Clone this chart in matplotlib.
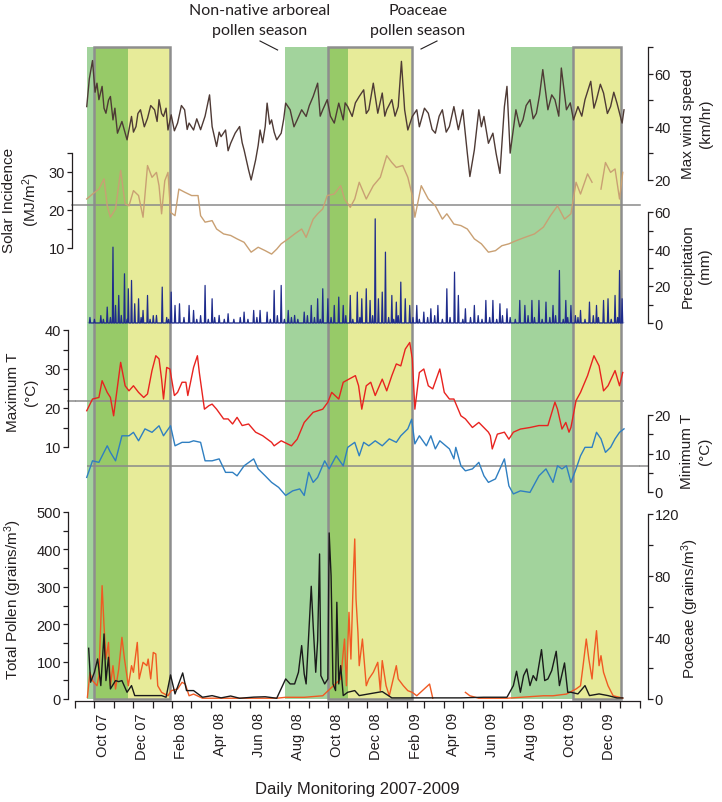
import numpy as np
import matplotlib
matplotlib.use('Agg')
import matplotlib.pyplot as plt
import matplotlib.dates as mdates
from matplotlib.lines import Line2D

plt.rcParams['font.family'] = ['Liberation Sans', 'DejaVu Sans']
plt.rcParams['mathtext.fontset'] = 'custom'
plt.rcParams['mathtext.rm'] = 'Liberation Sans'
plt.rcParams['mathtext.it'] = 'Liberation Sans:italic'
plt.rcParams['mathtext.bf'] = 'Liberation Sans:bold'

nan = np.nan
START = np.datetime64('2007-09-20')   # first day of monitoring

# pollen seasons
arb_start = ['2007-09-20', '2008-07-26', '2009-07-15']
arb_end = ['2007-11-23', '2008-11-01', '2009-10-20']
poa_start = ['2007-10-01', '2008-10-01', '2009-10-20']
poa_end = ['2008-01-28', '2009-02-10', '2010-01-03']

# max wind speed (km/hr), day offsets from START
wind_day = [0, 4, 9, 13, 16, 19, 24, 27, 30, 34, 37, 41, 44, 48, 55, 63, 70, 73, 77, 80, 84, 90, 95, 100, 106, 110, 113, 117, 120, 124, 127, 132, 137, 142,
            148, 153, 157, 160, 167, 172, 178, 185, 192, 196, 203, 207, 210, 217, 221, 225, 232, 239, 243, 246, 250, 253, 257, 264, 268, 271, 275, 279, 282, 286, 289,
            293, 297, 304, 308, 311, 318, 324, 329, 336, 343, 348, 354, 361, 365, 369, 376, 381, 387, 394, 401, 404, 408, 415, 420, 426, 433, 437, 441, 448,
            455, 462, 466, 469, 477, 482, 487, 492, 497, 502, 509, 516, 520, 523, 528, 534, 540, 545, 551, 556, 562, 567, 574, 581, 588, 595, 599,
            606, 613, 617, 621, 628, 635, 640, 646, 653, 657, 662, 671, 677, 682, 687, 693, 698, 703, 708, 713, 721, 727, 732, 738, 742, 750, 756, 761, 768,
            774, 779, 788, 793, 797, 803, 808, 814, 819, 824, 829, 837, 840]
wind = [47.6, 58.0, 64.9, 53.0, 56.4, 50.2, 55.2, 47.0, 45.1, 50.0, 51.4, 42.6, 47.0, 37.6, 42.0, 35.1, 43.9, 38.0, 40.1, 45.0, 46.4, 40.0, 43.2, 48.0, 46.4, 42.0, 50.2, 45.0, 43.9, 47.0, 38.8, 44.5, 38.5, 41.4,
        48.0, 46.4, 39.0, 41.4, 38.8, 43.0, 38.9, 44.0, 52.0, 40.1, 32.6, 38.0, 36.3, 38.8, 31.0, 33.8, 37.6, 40.1, 34.0, 31.3, 27.0, 23.8, 20.0, 27.5, 33.0, 38.8, 34.0, 40.1, 48.9, 41.0, 42.6,
        38.0, 35.1, 37.6, 43.0, 48.9, 46.4, 40.0, 42.6, 46.4, 43.9, 48.0, 51.4, 56.4, 44.0, 46.4, 50.2, 44.0, 41.4, 48.9, 42.6, 49.0, 47.6, 43.9, 49.0, 51.4, 53.9, 45.0, 46.4, 56.4,
        45.1, 52.7, 44.0, 46.4, 50.2, 44.0, 47.6, 64.6, 46.4, 38.8, 43.9, 46.4, 40.0, 42.6, 47.0, 45.1, 39.0, 37.6, 44.0, 46.4, 38.0, 40.1, 47.6, 38.9, 46.4, 30.1, 21.3,
        31.3, 46.4, 40.0, 43.9, 33.8, 37.6, 30.0, 22.5, 47.6, 55.2, 30.1, 46.4, 40.0, 42.6, 48.0, 50.2, 43.0, 45.1, 52.0, 61.5, 46.4, 52.0, 50.2, 44.0, 62.1, 46.4, 49.0, 42.6, 47.6,
        44.0, 50.2, 57.1, 47.0, 50.2, 56.0, 52.7, 45.0, 47.6, 53.0, 48.9, 41.4, 46.4]

# solar incidence (MJ/m2)
solar_day = [0, 9, 19, 27, 32, 37, 45, 53, 60, 66, 73, 81, 88, 95, 102, 109, 113, 117, 122, 127,
             131, 138, 144, 153, 164, 174, 178, 185, 196, 203, 214, 225, 235, 246, 257, 268, 279, 289, 297, 304,
             315, 325, 336, 343, 354, 361, 369, 376, 387, 397, 403, 412, 419, 426, 437, 448, 459, 469, 477, 484,
             494, 502, 509, 513, 523, 534, 545, 556, 563, 574, 585, 595, 606, 617, 628, 639, 649, 660, 671, 685,
             700, 714, 725, 736, 747, 757, 765, 772, 783, 790, 797, 804, 811, 819, 826, 833, 838]
solar = [22.9, 24.2, 25.5, 28.2, 21.1, 18.1, 20.3, 30.4, 21.6, 21.1, 25.1, 23.8, 18.1, 31.7, 28.6, 29.9, 26.4, 19.0, 27.7, 29.9,
         19.4, 18.5, 25.5, 24.7, 23.8, 23.8, 18.5, 16.8, 17.2, 15.0, 13.7, 13.3, 12.4, 11.5, 8.9, 10.2, 9.3, 8.4, 9.7, 11.1,
         12.4, 13.7, 15.0, 12.8, 17.6, 19.0, 20.3, 23.8, 24.2, 26.4, 22.9, 20.7, 22.9, 27.3, 22.9, 26.4, 28.6, 34.3, 32.5, 31.2,
         31.7, 28.6, 23.8, 18.1, 26.4, 22.9, 21.1, 17.6, 19.0, 16.3, 15.9, 15.0, 12.4, 11.1, 8.9, 9.3, 10.6, 11.1, 11.9, 12.8,
         13.7, 15.5, 18.5, 21.1, 17.6, 19.0, 27.3, 24.2, 29.5, 27.3, nan, 25.5, 32.5, 29.9, 30.8, 22.9, 29.9]

# precipitation (mm): rain days and light drizzle days
rain_day = [32, 41, 45, 50, 54, 59, 65, 70, 75, 81, 88, 95, 109, 118, 132, 138, 145, 160, 167, 185,
            196, 207, 221, 246, 261, 271, 282, 293, 304, 315, 325, 340, 351, 361, 369, 377, 387, 394, 401, 412,
            423, 430, 437, 443, 451, 456, 462, 467, 477, 484, 491, 498, 505, 516, 527, 538, 549, 563, 575, 581,
            592, 606, 624, 635, 646, 657, 677, 685, 696, 707, 718, 729, 739, 749, 757, 772, 786, 797, 808, 815,
            826, 833, 837]
rain_mm = [8.6, 41.0, 9.5, 14.9, 4.1, 26.6, 18.5, 23.0, 10.4, 13.1, 6.8, 14.9, 4.1, 19.4, 16.7, 9.5, 10.4, 9.5, 6.8, 20.3,
           13.1, 4.1, 5.0, 5.9, 6.8, 6.8, 5.9, 17.6, 20.3, 6.8, 4.1, 5.9, 9.5, 13.1, 18.5, 13.1, 9.5, 14.0, 9.5, 14.9,
           16.7, 13.1, 18.5, 12.2, 56.3, 13.1, 16.7, 38.3, 14.9, 11.3, 22.1, 13.1, 9.5, 9.5, 5.9, 7.7, 9.5, 18.5, 27.5, 14.9,
           7.7, 9.5, 12.2, 12.2, 10.4, 7.7, 12.2, 9.5, 12.2, 12.2, 11.3, 9.5, 28.4, 12.2, 9.5, 6.8, 11.3, 9.5, 12.2, 13.1,
           14.9, 28.4, 13.1]
drizzle_day = [5, 12, 22, 26, 37, 63, 85, 99, 104, 125, 128, 152, 172, 178, 190, 200, 215, 230, 240, 252,
               266, 287, 298, 309, 320, 330, 345, 356, 365, 382, 405, 416, 427, 447, 472, 480, 487, 510, 520, 533,
               544, 556, 568, 588, 600, 612, 618, 630, 641, 650, 662, 670, 690, 700, 712, 724, 733, 745, 752, 764,
               768, 779, 792, 800, 820, 830]
drizzle_mm = [3, 2, 4, 2, 3, 2, 3, 2, 4, 3, 2, 3, 2, 4, 2, 3, 2, 2, 3, 2,
              3, 2, 4, 2, 3, 2, 4, 3, 2, 3, 4, 2, 3, 4, 3, 2, 4, 3, 2, 3,
              4, 2, 3, 2, 3, 4, 2, 3, 2, 4, 3, 2, 4, 3, 2, 3, 4, 2, 3, 4,
              3, 2, 4, 3, 2, 3]

# maximum temperature (C)
maxt_day = [0, 9, 19, 24, 32, 37, 42, 53, 60, 66, 73, 81, 89, 95, 102, 108, 113, 117, 120, 125,
            130, 137, 142, 149, 155, 158, 167, 173, 176, 184, 191, 196, 203, 214, 221, 228, 235, 243, 253, 264,
            275, 289, 293, 304, 320, 329, 340, 354, 369, 377, 383, 394, 401, 420, 425, 430, 437, 444, 451, 462,
            469, 477, 484, 491, 498, 505, 509, 513, 520, 527, 534, 541, 552, 559, 567, 574, 585, 592, 603, 613,
            628, 631, 634, 642, 653, 660, 667, 678, 693, 707, 721, 732, 736, 743, 749, 754, 757, 765, 772, 783,
            793, 801, 808, 815, 826, 833, 838]
maxt = [19.3, 22.3, 22.7, 27.0, 24.0, 22.7, 18.0, 31.7, 25.7, 24.4, 25.7, 24.0, 22.7, 23.6, 29.6, 33.4, 32.6, 27.4, 22.3, 30.4,
        30.0, 23.2, 24.0, 26.6, 26.6, 23.2, 30.4, 33.4, 29.1, 19.7, 20.6, 21.0, 19.7, 17.2, 17.2, 15.9, 17.6, 15.5, 15.9, 13.8,
        12.9, 11.2, 10.3, 11.6, 10.3, 12.0, 16.3, 18.9, 19.7, 21.5, 24.0, 22.3, 26.6, 28.3, 25.7, 19.7, 25.7, 26.6, 23.2, 27.4,
        24.4, 28.3, 31.3, 30.8, 35.1, 36.8, 32.6, 19.7, 29.1, 30.0, 25.7, 24.9, 30.0, 24.0, 22.3, 22.3, 18.0, 17.2, 15.0, 16.3,
        13.8, 12.9, 9.5, 13.3, 13.8, 12.0, 13.8, 14.6, 15.0, 15.5, 15.5, 21.5, 19.7, 14.6, 16.3, 13.8, 15.0, 21.9, 24.0, 28.3,
        33.4, 30.8, 24.4, 25.7, 29.6, 25.7, 29.1]

# minimum temperature (C)
mint_day = [0, 9, 19, 32, 37, 45, 55, 66, 73, 81, 91, 102, 113, 120, 131, 138, 149, 160, 167, 178,
            185, 196, 207, 217, 228, 235, 246, 261, 268, 279, 289, 300, 311, 322, 333, 340, 347, 354, 361, 372,
            379, 390, 401, 408, 419, 426, 433, 441, 451, 462, 473, 484, 491, 502, 508, 513, 520, 531, 538, 545,
            552, 567, 574, 577, 585, 592, 603, 613, 621, 628, 639, 646, 653, 660, 667, 678, 693, 707, 718, 729,
            736, 743, 750, 757, 765, 772, 779, 790, 797, 804, 811, 819, 826, 833, 840]
mint = [3.8, 8.1, 7.7, 12.0, 10.3, 8.1, 14.6, 14.6, 15.5, 13.3, 16.4, 15.5, 17.2, 14.6, 17.2, 12.0, 12.9, 12.9, 13.3, 12.9,
        8.1, 8.1, 8.6, 5.1, 5.1, 4.2, 6.8, 8.6, 6.0, 4.2, 2.5, 1.2, -0.9, 0.3, 0.8, -0.9, 5.1, 2.5, 3.8, 8.1,
        6.0, 9.4, 6.8, 11.6, 12.9, 9.4, 12.9, 12.0, 13.3, 12.0, 13.8, 12.9, 14.6, 16.4, 18.9, 12.5, 14.6, 12.0, 14.6, 11.2,
        13.3, 11.2, 8.6, 11.6, 6.8, 5.5, 6.0, 7.7, 4.2, 2.5, 3.4, 6.0, 8.6, 1.6, -0.5, 0.3, -0.1, 4.2, 6.0, 2.5,
        6.8, 6.0, 6.8, 2.5, 6.0, 9.4, 11.6, 11.6, 15.5, 13.8, 10.3, 11.6, 13.8, 15.5, 16.4]

# total pollen (grains/m3)
total_day = [3, 6, 12, 17, 22, 27, 30, 34, 37, 45, 50, 55, 63, 70, 75, 88, 102, 117, 124, 131,
             138, 150, 156, 167, 181, 196, 210, 225, 239, 261, 279, 297, 311, 318, 325, 331, 336, 340, 343, 351,
             354, 358, 361, 364, 366, 372, 377, 379, 382, 385, 389, 391, 394, 397, 401, 408, 419, 426, 441, 462,
             477, 513, 549, 585, 621, 657, 667, 672, 678, 683, 688, 693, 698, 703, 711, 716, 721, 727, 734, 739,
             747, 752, 757, 768, 779, 786, 801, 815, 829, 838]
total = [135.6, 44.8, 71.5, 107.2, 35.8, 174.0, 49.2, 111.6, 26.9, 49.2, 46.5, 49.2, 18.0, 35.8, 9.1, 9.1, 9.1, 9.1, 4.7, 64.4,
         13.6, 69.7, 22.5, 22.5, 4.7, 9.0, 3.0, 8.0, 2.0, 5.0, 6.0, 2.0, 53.7, 40.3, 40.3, 71.5, 142.8, 67.0, 40.3, 301.4,
         196.2, 71.5, 156.1, 387.8, 62.6, 40.3, 53.7, 444.0, 329.9, 40.3, 22.5, 258.6, 40.3, 89.3, 9.1, 18.0, 22.5, 9.1, 13.6, 19.8,
         3.0, 3.0, 3.0, 3.0, 4.7, 4.7, 35.8, 74.2, 18.0, 62.6, 80.4, 35.8, 62.6, 49.2, 132.0, 49.2, 53.7, 76.0, 127.6, 35.8,
         96.4, 18.0, 18.0, 13.6, 35.8, 9.1, 13.6, 9.1, 2.9, 2.9]

# Poaceae pollen (grains/m3)
poa_day = [1, 5, 9, 16, 19, 24, 27, 30, 34, 37, 41, 45, 50, 55, 59, 65, 70, 73, 79, 82,
           88, 94, 96, 100, 104, 108, 111, 117, 127, 132, 142, 149, 154, 160, 167, 181, 225, 297, 311, 340,
           369, 383, 397, 403, 406, 410, 413, 417, 419, 421, 424, 426, 431, 437, 441, 448, 455, 459, 462, 468,
           473, 484, 487, 495, 502, 509, 516, 536, 541, 556, 592, 599, 613, 657, 714, 729, 750, 765, 772, 776,
           781, 785, 790, 793, 797, 801, 804, 808, 815, 823, 833, 838]
poa = [1.0, 17.3, 11.9, 8.6, 15.1, 73.5, 47.5, 25.9, 36.7, 8.6, 21.6, 6.5, 19.4, 40.0, 25.9, 8.6, 21.6, 17.3, 36.7, 13.0,
       23.8, 21.6, 25.9, 13.0, 30.2, 29.2, 8.6, 4.3, 2.1, 5.4, 6.5, 10.8, 9.7, 2.1, 3.2, 0.5, 0.5, 0.5, 1.1, 1.1,
       2.1, 7.6, 13.0, 38.9, 8.6, 56.2, 25.9, 82.1, 103.8, 64.8, 43.2, 21.6, 38.9, 8.6, 13.0, 17.3, 23.8, 5.4, 24.9, 8.6,
       2.1, 21.6, 13.0, 8.6, 5.4, 4.3, 2.1, 9.7, 0.5, nan, 4.3, 2.1, 0.5, 0.5, 2.1, 2.1, 3.2, 6.5, 8.6, 21.6,
       38.9, 25.9, 13.0, 28.1, 44.3, 21.6, 28.1, 17.3, 8.6, 2.1, 1.1, 0.5]

# long-term means drawn as grey reference lines
solar_mean = 21.3
maxt_mean = 21.8
mint_mean = 6.8

# colours
c_arb = '#a2d39c'
c_both = '#97ca68'
c_poa = '#e7eb99'
c_box = '#8e8e8e'
c_ref = '#8a8a8a'
c_txt = '#231f20'


def days(d):
    return START + np.asarray(d).astype('timedelta64[D]')


W, H = 722, 803
X0, X1 = 74.6, 640.0
XLIM = (np.datetime64('2007-09-01'), np.datetime64('2010-02-01'))
data_end = days(max(wind_day))


def fig_box(top, bottom):
    return [X0 / W, 1 - bottom / H, (X1 - X0) / W, (bottom - top) / H]


fig = plt.figure(figsize=(W / 100, H / 100), dpi=100)

# season shading
bg = fig.add_axes(fig_box(48, 700))
bg.set_xlim(XLIM)
bg.set_ylim(0, 1)
bg.axis('off')
for s, e in zip(arb_start, arb_end):
    bg.axvspan(np.datetime64(s), np.datetime64(e), color=c_arb, lw=0)
for s, e in zip(poa_start, poa_end):
    bg.axvspan(np.datetime64(s), np.datetime64(e), color=c_poa, lw=0)
for a0, a1, p0, p1 in zip(arb_start, arb_end, poa_start, poa_end):
    lo, hi = max(np.datetime64(a0), np.datetime64(p0)), min(np.datetime64(a1), np.datetime64(p1))
    if lo < hi:
        bg.axvspan(lo, hi, color=c_both, lw=0)
for s, e in zip(poa_start, poa_end):
    bg.axvspan(np.datetime64(s), np.datetime64(e), fill=False, edgecolor=c_box, lw=1.8, clip_on=False)


def panel(top, bottom, ylim, side, offset, major, minor):
    ax = fig.add_axes(fig_box(top, bottom))
    ax.set_xlim(XLIM)
    ax.set_ylim(ylim)
    ax.patch.set_visible(False)
    for sp in ax.spines.values():
        sp.set_visible(False)
    sp = ax.spines[side]
    sp.set_visible(True)
    sp.set_position(('outward', offset))
    sp.set_bounds(ylim[0], ylim[1])
    sp.set_linewidth(0.9)
    sp.set_color(c_txt)
    ax.yaxis.set_ticks_position(side)
    ax.set_yticks(major)
    ax.set_yticks(minor, minor=True)
    ax.tick_params(axis='x', which='both', bottom=False, labelbottom=False)
    ax.tick_params(axis='y', which='both', direction='out', length=3.5, width=0.9,
                   labelsize=10.5, pad=1.5, colors=c_txt)
    return ax


ax_wind = panel(48, 181, (20, 70), 'right', 5.5, [20, 40, 60], [30, 50, 70])
ax_wind.plot(days(wind_day), wind, color='#4e3a35', lw=1.0, clip_on=False)

ax_solar = panel(154, 249, (10, 35), 'left', 1.9, [10, 20, 30], [15, 25, 35])
ax_solar.plot(days(solar_day), solar, color='#c9a073', lw=1.0, clip_on=False)
ax_solar.plot([-0.0045, 1], [solar_mean] * 2, transform=ax_solar.get_yaxis_transform(), color=c_ref, lw=1.1,
              clip_on=False, zorder=1)

ax_rain = panel(213, 324, (0, 60), 'right', 5.5, [0, 20, 40, 60], [10, 30, 50])
rd = np.array(rain_day + drizzle_day)
rm = np.array(rain_mm + drizzle_mm, dtype=float)
order = np.argsort(rd)
rx, ry = [], []
for d, v in zip(rd[order], rm[order]):
    rx += [d - 1, d, d + 1]
    ry += [0, v, 0]
ax_rain.hlines(0, START, data_end, color='#1f2c8c', lw=1.0)
ax_rain.plot(days(rx), ry, color='#1f2c8c', lw=0.9, clip_on=False)

ax_maxt = panel(331, 448, (10, 40), 'left', 4.75, [10, 20, 30, 40], [15, 25, 35])
ax_maxt.plot(days(maxt_day), maxt, color='#e8231f', lw=1.0, clip_on=False)
ax_maxt.hlines(maxt_mean, XLIM[0], data_end, color=c_ref, lw=1.1, zorder=1)
ax_maxt.plot([-0.0117, 0], [maxt_mean] * 2, transform=ax_maxt.get_yaxis_transform(), color=c_ref, lw=1.1,
             clip_on=False)

ax_mint = panel(416, 493, (0, 20), 'right', 5.5, [0, 10, 20], [5, 15])
ax_mint.plot(days(mint_day), mint, color='#2f7fc1', lw=1.0, clip_on=False)
ax_mint.hlines(mint_mean, START, XLIM[1], color=c_ref, lw=1.1, zorder=1)
ax_mint.plot([1, 1.0137], [mint_mean] * 2, transform=ax_mint.get_yaxis_transform(), color=c_ref, lw=1.1,
             clip_on=False)

ax_poa = panel(515, 700, (0, 120), 'right', 5.5, [0, 40, 80, 120], [20, 60, 100])
ax_poa.plot(days(poa_day), poa, color='#f05a23', lw=1.0, clip_on=False)

ax_tot = panel(513, 700, (0, 500), 'left', 4.75, [0, 100, 200, 300, 400, 500], [50, 150, 250, 350, 450])
ax_tot.plot(days(total_day), total, color='#1a1a1a', lw=1.0, clip_on=False)

# date axis
bt = ax_tot.spines['bottom']
bt.set_visible(True)
bt.set_position(('outward', 1.5))
bt.set_linewidth(0.9)
bt.set_color(c_txt)
ax_tot.xaxis.set_major_locator(mdates.MonthLocator())
ax_tot.xaxis.set_major_formatter(plt.NullFormatter())
ax_tot.xaxis.set_minor_locator(mdates.MonthLocator(bymonth=[2, 4, 6, 8, 10, 12], bymonthday=15))
ax_tot.xaxis.set_minor_formatter(mdates.DateFormatter('%b %y'))
ax_tot.tick_params(axis='x', which='major', bottom=True, direction='out', length=5, width=0.9, colors=c_txt)
ax_tot.tick_params(axis='x', which='minor', bottom=True, labelbottom=True, length=0, pad=8,
                   labelsize=10.5, labelrotation=90, colors=c_txt)

# axis titles
def label(x, y, s, size=11):
    fig.text(x / W, 1 - y / H, s, rotation=90, ha='center', va='center', fontsize=size,
             color=c_txt, linespacing=1.3, multialignment='center')


label(22, 200, 'Solar Incidence\n(MJ/m$^2$)')
label(22, 392, 'Maximum T\n(°C)')
label(13, 600, 'Total Pollen (grains/m$^3$)')
label(697, 124, 'Max wind speed\n(km/hr)')
label(696, 266, 'Precipitation\n(mm)')
label(696, 451, 'Minimum T\n(°C)')
label(690, 609, 'Poaceae (grains/m$^3$)')

fig.text(357 / W, 1 - 790 / H, 'Daily Monitoring 2007-2009', ha='center', va='center',
         fontsize=12, color=c_txt)

# season annotations
for x, y, s in [(260, 11, 'Non-native arboreal'), (260, 31, 'pollen season'),
                (418, 11, 'Poaceae'), (418, 31, 'pollen season')]:
    fig.text(x / W, 1 - y / H, s, ha='center', va='center', fontsize=11.5, family='Lato', color=c_txt)
for (xa, ya), (xb, yb) in [((260, 42), (277.6, 51)), ((437, 42), (421, 50))]:
    fig.add_artist(Line2D([xa / W, xb / W], [1 - ya / H, 1 - yb / H], transform=fig.transFigure,
                          color=c_txt, lw=0.8))

fig.savefig('out.png', dpi=100)
